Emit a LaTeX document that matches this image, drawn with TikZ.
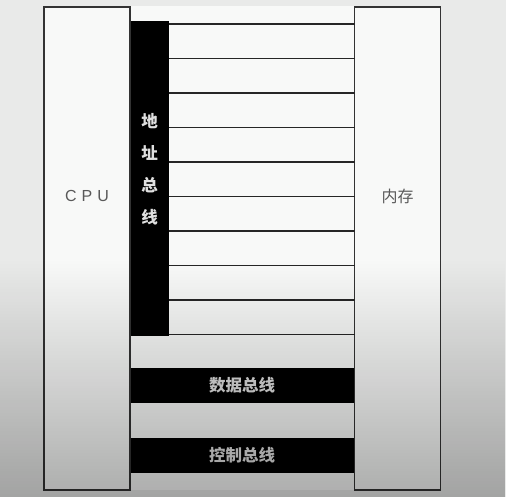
\documentclass[tikz,border=0pt]{standalone}
\usepackage{fontspec}
\setsansfont{Liberation Sans}
\newfontfamily\cjk{Noto Sans CJK SC}
\usetikzlibrary{positioning, fadings}

\definecolor{pagebg}{HTML}{E9EAE9}
\definecolor{paper}{HTML}{F8F9F8}

\begin{document}
\begin{tikzpicture}[
    x=1pt, y=-1pt,
    every node/.style={inner sep=0pt, outer sep=0pt},
    unit/.style={draw=black!80, line width=1.4pt, fill=paper,
                 minimum width=86pt, minimum height=483pt},
    unitlbl/.style={font=\sffamily\fontsize{16}{18}\selectfont, text=black!65},
    bus/.style={fill=black, minimum height=35pt},
    buslbl/.style={font=\cjk\bfseries\fontsize{16.5}{18}\selectfont, text=white!88!black},
    wire/.style={draw=black!85, line width=1.3pt}
]
% page
\fill[pagebg] (0,0) rectangle (506,497);
\useasboundingbox (0,0) rectangle (506,497);
\fill[paper] (130,6) rectangle (354,490);

% buses
\node[fill=black, minimum width=39pt, minimum height=315pt] (abus) at (149.5,178.5) {};
\node[bus, minimum width=224pt] (dbus) at (242,385.5) {};
\node[bus, minimum width=224pt] (cbus) at (242,455.5) {};

% units
\node[unit] (cpu) at (87,248.5) {};
\node[unit] (mem) at (397.5,248.5) {};

% address lines
\foreach \y in {24,58.5,93,127.5,162,196.5,231,265.5,300,334.5}
  \draw[wire] (abus.east |- 0,\y) -- (mem.west |- 0,\y);

% labels
\node[unitlbl] (cpulbl) at (cpu.center |- 0,196) {C\hspace{5pt}P\hspace{5pt}U};
\node[unitlbl, font=\cjk\fontsize{16}{18}\selectfont] (memlbl) at (mem.center |- 0,196) {内存};
\node[buslbl, align=center, font=\cjk\bfseries\fontsize{16.5}{32}\selectfont] (abuslbl)
  at (abus.center |- 0,169) {地\\址\\总\\线};
\node[buslbl] (dbuslbl) at (dbus.center) {数据总线};
\node[buslbl] (cbuslbl) at (cbus.center) {控制总线};

% shading of the photo
\fill[black, opacity=0.3, path fading=north] (0,260) rectangle (506,497);
\end{tikzpicture}
\end{document}
